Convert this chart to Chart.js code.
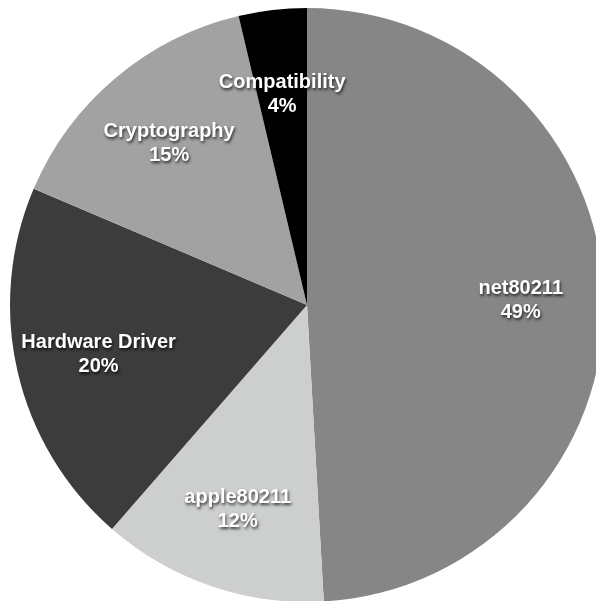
<!DOCTYPE html>
<html>
<head>
<meta charset="utf-8">
<script src="https://cdn.jsdelivr.net/npm/chart.js@4/dist/chart.umd.min.js"></script>
<style>
  html, body { margin: 0; padding: 0; background: #fff; overflow: hidden; }
  #wrap { position: absolute; left: 0; top: 0; }
</style>
</head>
<body>
<div id="wrap"><canvas id="pie" width="604" height="602"></canvas></div>
<script>
const categories = ['net80211', 'apple80211', 'Hardware Driver', 'Cryptography', 'Compatibility'];
// shares; labels show them rounded
const shares = [49.1, 12.3, 20.0, 14.9, 3.7];
const sliceColors = ['#868686', '#cdcfcf', '#3b3c3b', '#a1a2a1', '#000000'];

// draw name + percent inside each slice
const sliceLabels = {
  id: 'sliceLabels',
  afterDatasetsDraw(chart) {
    const ctx = chart.ctx;
    const meta = chart.getDatasetMeta(0);
    ctx.save();
    ctx.font = 'bold 20px "Liberation Sans", Arial, sans-serif';
    ctx.textAlign = 'center';
    ctx.textBaseline = 'middle';
    ctx.fillStyle = '#ffffff';
    ctx.shadowColor = 'rgba(0,0,0,0.75)';
    ctx.shadowBlur = 3;
    ctx.shadowOffsetX = 1;
    ctx.shadowOffsetY = 2;
    meta.data.forEach((arc, i) => {
      const mid = (arc.startAngle + arc.endAngle) / 2;
      const r = arc.outerRadius * 0.72;
      const x = arc.x + Math.cos(mid) * r;
      const y = arc.y + Math.sin(mid) * r + 2;
      ctx.fillText(categories[i], x, y - 12);
      ctx.fillText(Math.round(shares[i]) + '%', x, y + 12);
    });
    ctx.restore();
  }
};

new Chart(document.getElementById('pie').getContext('2d'), {
  type: 'pie',
  data: {
    labels: categories,
    datasets: [{
      data: shares,
      backgroundColor: sliceColors,
      borderWidth: 0
    }]
  },
  options: {
    responsive: false,
    animation: false,
    layout: { padding: { left: 10, top: 8, right: 0, bottom: 0 } },
    plugins: {
      legend: { display: false },
      tooltip: { enabled: false }
    }
  },
  plugins: [sliceLabels]
});
</script>
</body>
</html>
